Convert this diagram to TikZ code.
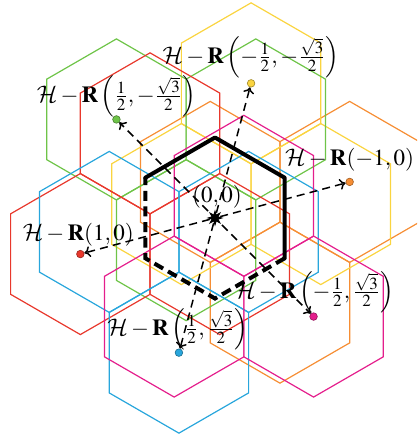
\documentclass[tikz,border=0pt]{standalone}
\usepackage{mathptmx}
\DeclareMathAlphabet{\mathcal}{OMS}{cmsy}{m}{n}
\usetikzlibrary{calc,arrows.meta,shapes.geometric}
\definecolor{cRed}{RGB}{232,56,44}
\definecolor{cGreen}{RGB}{110,196,72}
\definecolor{cYellow}{RGB}{250,212,64}
\definecolor{cOrange}{RGB}{246,142,52}
\definecolor{cMagenta}{RGB}{228,30,140}
\definecolor{cBlue}{RGB}{40,166,220}
\tikzset{
  hexa/.pic={\draw[pic actions] (30:80.5)--(90:80.5)--(150:80.5)--(210:80.5)--(270:80.5)--(330:80.5)--cycle;},
  hexline/.style={line width=0.6pt},
  arr/.style={dash pattern=on 4pt off 2.6pt, line width=0.75pt, -{To[length=3pt,width=5.5pt]}},
  dot/.style={circle, inner sep=0pt, minimum size=3.8pt, draw=#1!65!black, fill=#1, line width=0.3pt},
  lab/.style={font=\fontsize{11.5}{13.5}\selectfont, inner sep=0pt},
  cellsolid/.style={line width=2pt, line join=round, line cap=round},
  celldash/.style={line width=2pt, dash pattern=on 5pt off 2.8pt},
}
\begin{document}
\begin{tikzpicture}[x=0.5pt,y=0.5pt]
\useasboundingbox (0,0) rectangle (417,438);
\clip (0,0) rectangle (417,438);
\coordinate (O) at (215,220);
% translated hexagons
\foreach \ang/\col in {15/cOrange,75/cYellow,135/cGreen,195/cRed,255/cBlue,315/cMagenta}{
  \pgfmathsetmacro\angA{\ang-15}
  \pgfmathsetmacro\angB{\ang+45}
  \pic[draw=\col,hexline] at ($(O)+(\ang:139.4)$) {hexa};
  \pic[draw=\col,hexline] at ($(O)+(\ang:139.4)-(\angA:139.4)$) {hexa};
  \pic[draw=\col,hexline] at ($(O)+(\ang:139.4)-(\angB:139.4)$) {hexa};
}
% central cell
\begin{scope}[shift={(O)}]
  \draw[cellsolid] (150:80.5)--(90:80.5)--(30:80.5)--(-30:80.5);
  \draw[celldash] (-30:80.5)--(-90:80.5)--(-150:80.5)--(150:80.5);
\end{scope}
% center and dots
\node[star, star points=8, star point ratio=2.2, fill=black, inner sep=0pt, minimum size=8.5pt] (c0) at (O) {};
\node[dot=cOrange] (dOr) at ($(O)+(15:139.4)$) {};
\node[dot=cYellow] (dYe) at ($(O)+(75:139.4)$) {};
\node[dot=cGreen] (dGr) at ($(O)+(135:139.4)$) {};
\node[dot=cRed] (dRe) at ($(O)+(195:139.4)$) {};
\node[dot=cBlue] (dBl) at ($(O)+(255:139.4)$) {};
\node[dot=cMagenta] (dMa) at ($(O)+(315:139.4)$) {};
% arrows
\foreach \d in {dOr,dYe,dGr,dRe,dBl,dMa}{
  \draw[arr] (c0) -- (\d);
}
% labels
\node[lab] (l0) at ($(O)+(2,21)$) {$(0,0)$};
\node[lab] (lOr) at ($(dOr)+(0,22)$) {$\mathcal{H}-\mathbf{R}(-1,0)$};
\node[lab] (lRe) at ($(dRe)+(-2,19)$) {$\mathcal{H}-\mathbf{R}(1,0)$};
\node[lab] (lGr) at ($(dGr)+(0,23)$) {$\mathcal{H}-\mathbf{R}\left(\frac{1}{2},-\frac{\sqrt{3}}{2}\right)$};
\node[lab] (lYe) at ($(dYe)+(0,26)$) {$\mathcal{H}-\mathbf{R}\left(-\frac{1}{2},-\frac{\sqrt{3}}{2}\right)$};
\node[lab] (lBl) at ($(dBl)+(-1,23)$) {$\mathcal{H}-\mathbf{R}\left(\frac{1}{2},\frac{\sqrt{3}}{2}\right)$};
\node[lab] (lMa) at ($(dMa)+(1,24)$) {$\mathcal{H}-\mathbf{R}\left(-\frac{1}{2},\frac{\sqrt{3}}{2}\right)$};
\end{tikzpicture}
\end{document}
